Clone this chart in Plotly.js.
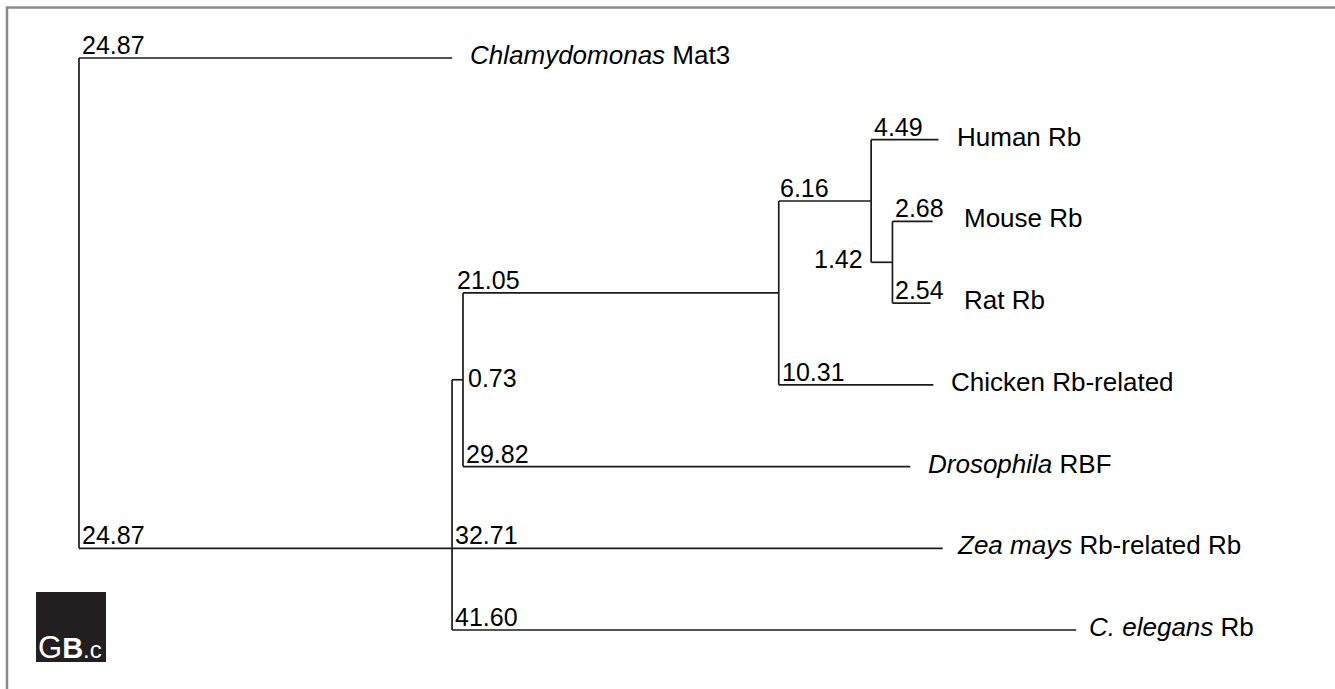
<!DOCTYPE html>
<html>
<head>
<meta charset="utf-8">
<script src="https://cdn.plot.ly/plotly-3.0.1.min.js"></script>
<style>
  html, body { margin: 0; padding: 0; background: #ffffff; }
  #chart { width: 1335px; height: 689px; }
</style>
</head>
<body>
<div id="chart"></div>
<script>
// ---- DATA ----
// Leaves, top to bottom
const leafIds = ["Chlamydomonas Mat3", "Human Rb", "Mouse Rb", "Rat Rb", "Chicken Rb-related", "Drosophila RBF", "Zea mays Rb-related Rb", "C. elegans Rb"];
const leafLabels = ["<i>Chlamydomonas</i> Mat3", "Human Rb", "Mouse Rb", "Rat Rb", "Chicken Rb-related", "<i>Drosophila</i> RBF", "<i>Zea mays</i> Rb-related Rb", "<i>C. elegans</i> Rb"];
// Branches: child, parent, length
const branchChild  = ["Chlamydomonas Mat3", "n1", "n2", "Zea mays Rb-related Rb", "C. elegans Rb", "n3", "Drosophila RBF", "n4", "Chicken Rb-related", "Human Rb", "n5", "Mouse Rb", "Rat Rb"];
const branchParent = ["root", "root", "n1", "n1", "n1", "n2", "n2", "n3", "n3", "n4", "n4", "n5", "n5"];
const branchLength = [24.87, 24.87, 0.73, 32.71, 41.60, 21.05, 29.82, 6.16, 10.31, 4.49, 1.42, 2.68, 2.54];

// ---- STYLE ----
const lineColor = "#1a1a1a";
const textFont = "Liberation Sans, Arial, Helvetica, sans-serif";
const leafShift = {"Mouse Rb": 29, "Rat Rb": 31, "Zea mays Rb-related Rb": 12, "C. elegans Rb": 11};
const branchLabelShift = {"n3": -9, "n4": -2};
const W = 1335, H = 689;

// ---- TREE LAYOUT ----
const children = {};
branchChild.forEach((c, i) => {
  const p = branchParent[i];
  (children[p] = children[p] || []).push(c);
});
const lengthOf = {};
branchChild.forEach((c, i) => { lengthOf[c] = branchLength[i]; });

const X = {root: 0};
function setX(node) {
  (children[node] || []).forEach(c => { X[c] = X[node] + lengthOf[c]; setX(c); });
}
setX("root");

const Y = {};
leafIds.forEach((l, i) => { Y[l] = i; });
function setY(node) {
  if (Y[node] !== undefined) return Y[node];
  const ys = children[node].map(setY);
  if (ys.length === 3) Y[node] = ys[1];
  else Y[node] = (Math.min(...ys) + Math.max(...ys)) / 2;
  return Y[node];
}
setY("root");

// ---- SEGMENTS ----
const sx = [], sy = [];
branchChild.forEach((c, i) => {
  const p = branchParent[i];
  sx.push(X[p], X[c], null); sy.push(Y[c], Y[c], null);
});
Object.keys(children).forEach(n => {
  const ys = children[n].map(c => Y[c]);
  sx.push(X[n], X[n], null); sy.push(Math.min(...ys), Math.max(...ys), null);
});

const annotations = [];
// branch-length labels
branchChild.forEach((c, i) => {
  const p = branchParent[i];
  const txt = branchLength[i].toFixed(2);
  const base = {text: txt, showarrow: false, font: {family: textFont, size: 25, color: "#000"}, xref: "x", yref: "y"};
  if (c === "n5") {
    annotations.push(Object.assign(base, {x: X[p], y: Y[c], xanchor: "right", yanchor: "middle", xshift: -6, yshift: 3}));
  } else if (c === "n2") {
    annotations.push(Object.assign(base, {x: X[c], y: Y[c], xanchor: "left", yanchor: "middle", xshift: 3, yshift: 2}));
  } else {
    annotations.push(Object.assign(base, {x: X[p], y: Y[c], xanchor: "left", yanchor: "bottom", xshift: 1 + (branchLabelShift[c] || 0), yshift: -3}));
  }
});
// leaf labels
leafIds.forEach((l, i) => {
  annotations.push({text: leafLabels[i], x: X[l], y: Y[l], xref: "x", yref: "y", xanchor: "left", yanchor: "middle",
    xshift: leafShift[l] !== undefined ? leafShift[l] : 16, yshift: 3, showarrow: false,
    font: {family: textFont, size: 26, color: "#000"}});
});
// logo text
annotations.push({text: "<span style='font-size:31px'>G</span><b>B</b><span style='font-size:24px'>.c</span>", xref: "paper", yref: "paper", x: 36 / W, y: 1 - 667 / H,
  xanchor: "left", yanchor: "bottom", showarrow: false, font: {family: textFont, size: 29, color: "#ffffff"}});

const pxPerUnitX = 15.0, x0px = 79;
const y0px = 58, pxPerLeaf = (630 - 58) / 7;

const layout = {
  width: W, height: H,
  margin: {l: 0, r: 0, t: 0, b: 0},
  paper_bgcolor: "#ffffff", plot_bgcolor: "#ffffff",
  showlegend: false,
  hovermode: false,
  xaxis: {visible: false, range: [-x0px / pxPerUnitX, (W - x0px) / pxPerUnitX], fixedrange: true},
  yaxis: {visible: false, range: [(H - y0px) / pxPerLeaf, -y0px / pxPerLeaf], fixedrange: true},
  shapes: [
    {type: "rect", xref: "paper", yref: "paper", x0: 7 / W, x1: 1.2, y0: -0.2, y1: 1 - 7.5 / H,
      line: {color: "#8a8a8a", width: 2.5}, fillcolor: "rgba(0,0,0,0)", layer: "below"},
    {type: "rect", xref: "paper", yref: "paper", x0: 36 / W, x1: 106 / W, y0: 1 - 662 / H, y1: 1 - 592 / H,
      line: {width: 0}, fillcolor: "#231f20", layer: "below"}
  ],
  annotations: annotations
};

Plotly.newPlot("chart", [{
  type: "scatter", mode: "lines", x: sx, y: sy,
  line: {color: lineColor, width: 1.7}, hoverinfo: "skip", cliponaxis: false
}], layout, {displayModeBar: false, staticPlot: true});
</script>
</body>
</html>
